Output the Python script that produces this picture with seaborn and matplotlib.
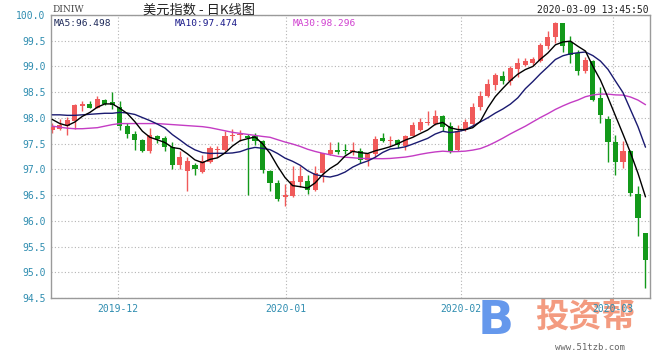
import numpy as np
import pandas as pd
import matplotlib
matplotlib.use("Agg")
import matplotlib.pyplot as plt
import seaborn as sns

# ---------------- data ----------------
open_ = [97.77, 97.79, 97.85, 97.94, 98.24, 98.27, 98.20, 98.35, 98.30, 98.22,
         97.84, 97.69, 97.58, 97.35, 97.64, 97.61, 97.43, 97.09, 96.97, 97.09,
         96.94, 97.14, 97.37, 97.37, 97.64, 97.66, 97.65, 97.65, 97.55, 96.96,
         96.74, 96.47, 96.48, 96.75, 96.77, 96.60, 96.93, 97.30, 97.38, 97.37,
         97.34, 97.35, 97.19, 97.29, 97.60, 97.55, 97.58, 97.46, 97.65, 97.77,
         97.91, 97.88, 98.03, 97.84, 97.38, 97.77, 97.89, 98.22, 98.42, 98.64,
         98.82, 98.72, 98.95, 99.03, 99.06, 99.10, 99.40, 99.57, 99.85, 99.48,
         99.26, 98.92, 99.10, 98.38, 97.97, 97.53, 97.14, 97.35, 96.53, 95.76]
high = [97.90, 97.98, 98.02, 98.27, 98.32, 98.33, 98.42, 98.36, 98.51, 98.32,
        97.90, 97.74, 97.59, 97.80, 97.67, 97.64, 97.54, 97.35, 97.25, 97.13,
        97.27, 97.45, 97.46, 97.74, 97.78, 97.77, 97.69, 97.71, 97.58, 96.99,
        96.80, 96.71, 97.06, 97.06, 96.90, 97.06, 97.32, 97.53, 97.53, 97.49,
        97.53, 97.42, 97.32, 97.64, 97.71, 97.64, 97.59, 97.66, 97.93, 98.00,
        98.13, 98.16, 98.06, 97.93, 97.87, 97.97, 98.29, 98.53, 98.76, 98.87,
        98.91, 99.00, 99.16, 99.17, 99.19, 99.45, 99.68, 99.87, 99.85, 99.59,
        99.32, 99.19, 99.13, 98.61, 98.04, 97.67, 97.55, 97.38, 96.67, 95.77]
low = [97.71, 97.77, 97.67, 97.78, 98.13, 98.19, 98.19, 98.25, 98.17, 97.77,
       97.61, 97.38, 97.33, 97.32, 97.51, 97.35, 97.01, 97.00, 96.58, 96.90,
       96.93, 97.13, 97.25, 97.35, 97.55, 97.56, 96.51, 97.48, 96.93, 96.58,
       96.38, 96.29, 96.47, 96.66, 96.52, 96.58, 96.75, 97.27, 97.29, 97.29,
       97.27, 97.13, 97.06, 97.25, 97.53, 97.45, 97.42, 97.38, 97.64, 97.75,
       97.87, 97.87, 97.75, 97.32, 97.35, 97.74, 97.87, 98.16, 98.40, 98.55,
       98.66, 98.64, 98.80, 99.00, 99.03, 99.08, 99.34, 99.45, 99.29, 99.06,
       98.84, 98.87, 98.32, 97.90, 97.14, 96.90, 97.03, 96.48, 95.70, 94.70]
close = [97.82, 97.86, 97.95, 98.25, 98.27, 98.20, 98.37, 98.27, 98.25, 97.84,
         97.69, 97.58, 97.35, 97.66, 97.59, 97.43, 97.09, 97.24, 97.16, 97.00,
         97.16, 97.41, 97.39, 97.64, 97.67, 97.67, 97.61, 97.56, 96.98, 96.74,
         96.42, 96.50, 96.78, 96.88, 96.60, 96.92, 97.31, 97.38, 97.33, 97.36,
         97.37, 97.19, 97.29, 97.59, 97.55, 97.58, 97.48, 97.64, 97.86, 97.92,
         97.93, 98.03, 97.82, 97.34, 97.75, 97.92, 98.22, 98.43, 98.66, 98.84,
         98.72, 98.97, 99.06, 99.11, 99.14, 99.42, 99.58, 99.85, 99.39, 99.22,
         98.92, 99.12, 98.35, 98.06, 97.53, 97.14, 97.35, 96.54, 96.06, 95.24]

# moving-average values at the left edge (their earlier closes are off-chart)
ma5_head = [97.97, 97.89, 97.85, 97.92]
ma10_head = [98.06, 98.06, 98.05, 98.05, 98.06, 98.07, 98.08, 98.09, 98.09]
ma30_head = [97.84, 97.82, 97.80, 97.79, 97.79, 97.80, 97.81, 97.84, 97.87, 97.89,
             97.89, 97.89, 97.89, 97.89, 97.89, 97.88, 97.87, 97.86, 97.85, 97.84,
             97.83, 97.81, 97.78, 97.75, 97.72, 97.70, 97.68, 97.66, 97.64]

month_labels = ["2019-12", "2020-01", "2020-02", "2020-03"]
month_pos = [8.8, 31.1, 54.4, 74.7]
y_ticks = [94.5, 95.0, 95.5, 96.0, 96.5, 97.0, 97.5, 98.0, 98.5, 99.0, 99.5, 100.0]
legend_names = ["MA5", "MA10", "MA30"]
legend_vals = [96.498, 97.474, 98.296]

# ---------------- build table ----------------
df = pd.DataFrame({"open": open_, "high": high, "low": low, "close": close})
df["idx"] = np.arange(len(df))
c = df["close"]
ma5 = c.rolling(5).mean()
ma5.iloc[:len(ma5_head)] = ma5_head
ma10 = c.rolling(10).mean()
ma10.iloc[:len(ma10_head)] = ma10_head
ma30 = c.rolling(30).mean()
ma30.iloc[:len(ma30_head)] = ma30_head
df["MA5"], df["MA10"], df["MA30"] = ma5, ma10, ma30

sns.set_theme(style="white")
plt.rcParams["font.family"] = ["DejaVu Sans Mono", "Noto Sans CJK SC"]

UP = "#f05a5a"
DOWN = "#13991a"
GRID = "#b4b4b4"
TICK = "#2f8db0"

fig = plt.figure(figsize=(6.6, 3.6), dpi=100)
fig.patch.set_facecolor("white")
ax = fig.add_axes([51 / 660, 62 / 360, 599 / 660, 283 / 360])
ax.set_facecolor("white")

# grid
for yv in y_ticks:
    ax.axhline(yv, color=GRID, lw=0.8, ls=(0, (1, 2)), zorder=0)
for xv in month_pos:
    ax.axvline(xv, color=GRID, lw=0.8, ls=(0, (1, 2)), zorder=0)

# candles
up = df["close"] >= df["open"]
colors = np.where(up, UP, DOWN)
ax.vlines(df["idx"], df["low"], df["high"], colors=colors, lw=1.0, zorder=2)
body_low = np.minimum(df["open"], df["close"])
body_h = np.maximum((df["close"] - df["open"]).abs(), 0.018)
ax.bar(df["idx"], body_h, bottom=body_low, width=0.68, color=colors,
       linewidth=0, zorder=3)

# moving averages
sns.lineplot(data=df, x="idx", y="MA30", color="#c43cc4", lw=1.0, ax=ax, zorder=4)
sns.lineplot(data=df, x="idx", y="MA10", color="#1a1a70", lw=1.0, ax=ax, zorder=5)
sns.lineplot(data=df, x="idx", y="MA5", color="#000000", lw=1.0, ax=ax, zorder=6)

ax.set_xlim(-0.17, 79.6)
ax.set_ylim(94.5, 100.0)
ax.set_xlabel("")
ax.set_ylabel("")
ax.set_yticks(y_ticks)
ax.set_yticklabels([f"{v:.1f}" for v in y_ticks])
ax.set_xticks(month_pos)
ax.set_xticklabels(month_labels)
ax.tick_params(axis="both", length=0, labelsize=7, labelcolor=TICK)
ax.tick_params(axis="y", pad=4)
ax.tick_params(axis="x", pad=4)
for sp in ax.spines.values():
    sp.set_color("#9a9a9a")
    sp.set_linewidth(1.0)

# legend row
leg_x = [54, 175, 293]
leg_c = ["#1e2a5a", "#1a1a8a", "#d040d0"]
for name, val, xp, col in zip(legend_names, legend_vals, leg_x, leg_c):
    fig.text(xp / 660, 1 - 24 / 360, f"{name}:{val:.3f}", fontsize=6.8,
             color=col, ha="left", va="center")

# header
fig.text(52 / 660, 1 - 10 / 360, "DINIW", fontsize=6.5, color="#444444",
         family="DejaVu Serif", ha="left", va="center")
fig.text(199 / 660, 1 - 10 / 360, "美元指数 - 日K线图", fontsize=9.5,
         color="#222222", family=["Noto Sans CJK SC", "DejaVu Sans"],
         ha="center", va="center")
fig.text(649 / 660, 1 - 10 / 360, "2020-03-09 13:45:50", fontsize=7,
         color="#222222", ha="right", va="center")

# watermark (drawn beneath the axes' tick labels)
fig.text(585 / 660, 1 - 317 / 360, "投资帮", fontsize=24, color="#f07a55",
         alpha=0.75, weight="bold", family=["Noto Sans CJK SC", "DejaVu Sans"],
         ha="center", va="center", zorder=-1)
fig.text(496 / 660, 1 - 322 / 360, "B", fontsize=34, color="#3f7ee8",
         alpha=0.8, weight="bold", family="DejaVu Sans", ha="center",
         va="center", zorder=-1)
fig.text(590 / 660, 1 - 347 / 360, "www.51tzb.com", fontsize=6.5,
         color="#666666", ha="center", va="center", zorder=-1)

fig.savefig("out.png", dpi=100, facecolor="white")
